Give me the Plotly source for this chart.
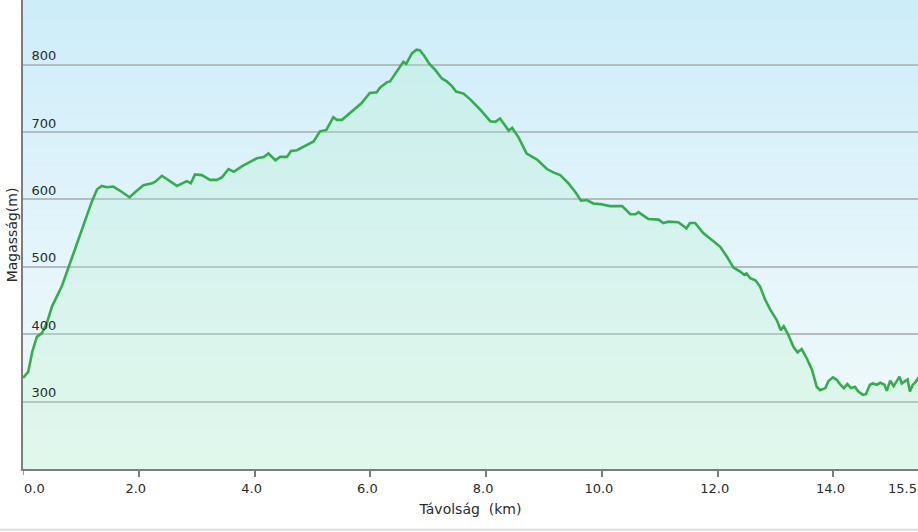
import base64
import struct
import zlib

import plotly.graph_objects as go

distance_km = [
    0.00, 0.09, 0.16, 0.24, 0.33, 0.41, 0.50, 0.59, 0.67, 0.79, 0.93, 1.08, 1.19, 1.28,
    1.36, 1.45, 1.56, 1.71, 1.84, 1.94, 2.08, 2.23, 2.28, 2.40, 2.51, 2.66, 2.83, 2.90,
    2.97, 3.09, 3.23, 3.35, 3.44, 3.55, 3.64, 3.78, 3.93, 4.04, 4.16, 4.24, 4.36, 4.44,
    4.56, 4.63, 4.73, 4.82, 4.93, 5.02, 5.13, 5.24, 5.36, 5.42, 5.51, 5.68, 5.85, 5.99,
    6.11, 6.17, 6.29, 6.34, 6.46, 6.57, 6.62, 6.72, 6.80, 6.86, 6.93, 7.02, 7.12, 7.24,
    7.32, 7.41, 7.48, 7.61, 7.73, 7.90, 8.07, 8.16, 8.24, 8.39, 8.45, 8.56, 8.70, 8.88,
    9.05, 9.16, 9.28, 9.42, 9.54, 9.64, 9.74, 9.85, 9.97, 10.14, 10.35, 10.49, 10.58,
    10.63, 10.80, 10.98, 11.06, 11.15, 11.32, 11.46, 11.52, 11.61, 11.75, 11.90, 12.04,
    12.16, 12.27, 12.39, 12.46, 12.50, 12.56, 12.65, 12.73, 12.82, 12.91, 13.02, 13.09,
    13.14, 13.22, 13.31, 13.38, 13.45, 13.54, 13.63, 13.71, 13.77, 13.86, 13.91, 13.99,
    14.06, 14.12, 14.18, 14.24, 14.30, 14.37, 14.43, 14.51, 14.56, 14.63, 14.68, 14.75,
    14.81, 14.88, 14.92, 14.98, 15.04, 15.10, 15.14, 15.18, 15.24, 15.28, 15.32, 15.37,
    15.41, 15.46, 15.50,
]
elevation_m = [
    335, 344, 374, 396, 402, 416, 441, 456, 471, 500, 535, 570, 597, 615,
    620, 618, 619, 611, 603, 611, 621, 624, 626, 635, 629, 620, 627, 624,
    637, 636, 629, 629, 633, 645, 641, 649, 656, 661, 663, 668, 658, 663,
    663, 672, 673, 677, 683, 686, 701, 703, 722, 718, 718, 730, 743, 758,
    759, 766, 774, 775, 791, 804, 801, 817, 822, 821, 813, 801, 792, 779,
    775, 768, 760, 757, 748, 733, 716, 715, 720, 702, 706, 692, 668, 659,
    645, 640, 636, 624, 611, 598, 599, 594, 593, 590, 590, 578, 578,
    581, 571, 570, 565, 567, 566, 557, 565, 565, 550, 540, 530,
    515, 499, 493, 488, 490, 483, 480, 471, 451, 436, 421, 406,
    412, 399, 381, 373, 378, 364, 347, 322, 317, 320, 330, 336,
    332, 325, 320, 326, 320, 322, 315, 310, 311, 325, 327, 325,
    328, 325, 316, 331, 323, 332, 337, 327, 331, 333, 315, 325,
    328, 335, 336,
]
x_tick_vals = [0, 2, 4, 6, 8, 10, 12, 14]
x_tick_text = ["0.0", "2.0", "4.0", "6.0", "8.0", "10.0", "12.0", "14.0"]
y_tick_vals = [300, 400, 500, 600, 700, 800]
start_label_pos = 0.20   # first label sits right of its tick in the reference
end_label = "15.5"
end_label_pos = 15.19
x_title = "Távolság\u00a0\u00a0(km)"
y_title = "Magasság(m)"

X_RANGE = [0, 15.46]
Y_RANGE = [200, 895.8]
FONT = "DejaVu Sans"
TXT = "#2b2b2b"
AXIS_GRAY = "#7d7d7d"
LABEL_Y = -0.041


# ---- vertical gradient for the plot background (tiny PNG, generated locally) ----
def gradient_png(stops, height=256):
    def lerp(a, b, t):
        return int(round(a + (b - a) * t))

    def hex2rgb(h):
        h = h.lstrip("#")
        return tuple(int(h[i:i + 2], 16) for i in (0, 2, 4))

    stops = [(p, hex2rgb(c)) for p, c in stops]
    raw = b""
    for r in range(height):
        t = r / (height - 1)  # 0 = top
        for (p0, c0), (p1, c1) in zip(stops, stops[1:]):
            if p0 <= t <= p1:
                u = (t - p0) / (p1 - p0) if p1 > p0 else 0
                rgb = tuple(lerp(c0[k], c1[k], u) for k in range(3))
                break
        raw += b"\x00" + bytes(rgb)

    def chunk(tag, data):
        c = struct.pack(">I", len(data)) + tag + data
        return c + struct.pack(">I", zlib.crc32(tag + data) & 0xFFFFFFFF)

    png = b"\x89PNG\r\n\x1a\n"
    png += chunk(b"IHDR", struct.pack(">IIBBBBB", 1, height, 8, 2, 0, 0, 0))
    png += chunk(b"IDAT", zlib.compress(raw, 9))
    png += chunk(b"IEND", b"")
    return "data:image/png;base64," + base64.b64encode(png).decode()


bg_src = gradient_png([(0.0, "#cdedf9"), (0.5, "#e3f4fb"), (1.0, "#f1fbf8")])

fig = go.Figure()

# elevation profile
fig.add_trace(go.Scatter(
    x=distance_km, y=elevation_m, mode="lines",
    line=dict(color="#33ad4e", width=2.6),
    fill="tozeroy", fillcolor="rgba(175,240,200,0.25)",
    hoverinfo="x+y", showlegend=False,
))

fig.update_layout(
    width=918, height=532,
    margin=dict(l=23, r=0, t=0, b=63),
    paper_bgcolor="white", plot_bgcolor="white",
    font=dict(family=FONT, size=13, color=TXT),
    images=[dict(source=bg_src, xref="paper", yref="paper", x=0, y=1,
                 sizex=1, sizey=1, sizing="stretch", xanchor="left",
                 yanchor="top", layer="below")],
    xaxis=dict(
        range=X_RANGE, tickvals=x_tick_vals, ticktext=x_tick_text,
        showgrid=False, zeroline=False,
        showline=True, linecolor=AXIS_GRAY, linewidth=2,
        ticks="outside", ticklen=6, tickwidth=1.5, tickcolor=AXIS_GRAY,
        ticklabelshift=-3,
        tickfont=dict(family=FONT, size=13, color=TXT),
        title=dict(text=x_title, font=dict(family=FONT, size=14, color=TXT), standoff=10),
        automargin=False,
    ),
    yaxis=dict(
        range=Y_RANGE, tickvals=y_tick_vals,
        showgrid=True, gridcolor="#b3bdc1", gridwidth=1.5,
        zeroline=False,
        showline=True, linecolor=AXIS_GRAY, linewidth=2,
        ticks="", ticklabelposition="inside",
        ticklabelshift=-9, ticklabelstandoff=8,
        tickfont=dict(family=FONT, size=13, color=TXT),
        automargin=False,
    ),
    annotations=[
        dict(text=x_tick_text[0], x=start_label_pos, xref="x", y=LABEL_Y, yref="paper",
             showarrow=False, xanchor="center", yanchor="middle",
             font=dict(family=FONT, size=13, color=TXT)),
        dict(text=end_label, x=end_label_pos, xref="x", y=LABEL_Y, yref="paper",
             showarrow=False, xanchor="center", yanchor="middle",
             font=dict(family=FONT, size=13, color=TXT)),
        dict(text=y_title, x=-0.0125, xref="paper", y=0.5, yref="paper",
             textangle=-90, showarrow=False, xanchor="center", yanchor="middle",
             font=dict(family=FONT, size=14, color=TXT)),
    ],
    shapes=[
        # tick mark at the origin (hidden by plotly under the y-axis line)
        dict(type="line", xref="x", yref="paper", x0=x_tick_vals[0], x1=x_tick_vals[0],
             y0=0, y1=-0.0128, line=dict(color=AXIS_GRAY, width=1.5)),
        # faint separator at the bottom of the widget
        dict(type="line", xref="paper", yref="paper", x0=-0.03, x1=1.0,
             y0=-0.1295, y1=-0.1295, line=dict(color="#dcdcdc", width=2)),
    ],
)

fig.write_html("out.html", config={"displayModeBar": False},
               post_script="document.body.style.margin='0';")
